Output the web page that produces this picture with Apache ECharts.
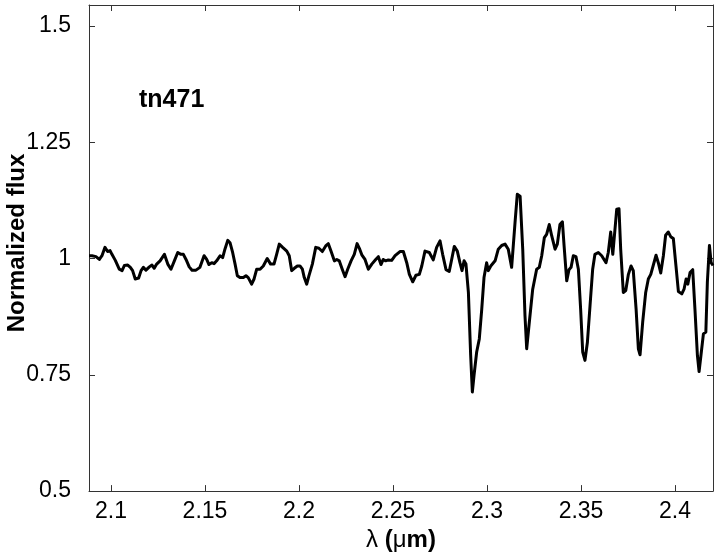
<!DOCTYPE html>
<html>
<head>
<meta charset="utf-8">
<script src="https://cdn.jsdelivr.net/npm/echarts@6/dist/echarts.min.js"></script>
<style>
html,body{margin:0;padding:0;background:#fff;}
#chart{width:717px;height:557px;}
</style>
</head>
<body>
<div id="chart"></div>
<script>
var wavelength = [2.0883,2.0899,2.0920,2.0938,2.0952,2.0968,2.0982,2.0995,2.1005,2.1023,2.1044,2.1059,2.1071,2.1089,2.1103,2.1115,2.1129,2.1147,2.1160,2.1172,2.1186,2.1204,2.1218,2.1230,2.1243,2.1261,2.1284,2.1302,2.1319,2.1337,2.1355,2.1372,2.1385,2.1399,2.1416,2.1431,2.1452,2.1473,2.1495,2.1509,2.1521,2.1536,2.1548,2.1562,2.1580,2.1594,2.1606,2.1621,2.1633,2.1647,2.1660,2.1672,2.1686,2.1704,2.1718,2.1730,2.1748,2.1761,2.1775,2.1793,2.1810,2.1831,2.1849,2.1867,2.1881,2.1895,2.1913,2.1935,2.1948,2.1961,2.1975,2.1991,2.2005,2.2018,2.2028,2.2041,2.2053,2.2071,2.2089,2.2106,2.2124,2.2142,2.2156,2.2170,2.2188,2.2201,2.2214,2.2230,2.2245,2.2259,2.2277,2.2294,2.2309,2.2321,2.2334,2.2351,2.2369,2.2387,2.2408,2.2422,2.2436,2.2448,2.2461,2.2475,2.2493,2.2511,2.2537,2.2555,2.2573,2.2587,2.2605,2.2622,2.2640,2.2653,2.2670,2.2693,2.2714,2.2732,2.2750,2.2764,2.2782,2.2799,2.2812,2.2826,2.2842,2.2856,2.2867,2.2878,2.2888,2.2901,2.2913,2.2922,2.2931,2.2945,2.2959,2.2972,2.2984,2.2998,2.3007,2.3020,2.3043,2.3060,2.3078,2.3096,2.3113,2.3131,2.3149,2.3161,2.3176,2.3190,2.3202,2.3211,2.3225,2.3243,2.3264,2.3278,2.3291,2.3305,2.3317,2.3331,2.3344,2.3362,2.3374,2.3388,2.3401,2.3410,2.3424,2.3436,2.3447,2.3459,2.3473,2.3486,2.3498,2.3509,2.3521,2.3534,2.3548,2.3562,2.3574,2.3592,2.3610,2.3619,2.3633,2.3645,2.3658,2.3669,2.3679,2.3690,2.3702,2.3711,2.3725,2.3738,2.3752,2.3766,2.3778,2.3793,2.3805,2.3814,2.3828,2.3844,2.3858,2.3871,2.3881,2.3899,2.3911,2.3924,2.3938,2.3950,2.3964,2.3977,2.3991,2.4005,2.4018,2.4036,2.4048,2.4059,2.4068,2.4080,2.4094,2.4106,2.4119,2.4128,2.4138,2.4151,2.4164,2.4172,2.4183,2.4192,2.4202];
var flux = [1.006,1.006,1.004,0.998,1.006,1.024,1.015,1.017,1.009,0.996,0.977,0.974,0.985,0.986,0.981,0.974,0.956,0.958,0.974,0.981,0.975,0.982,0.986,0.979,0.988,0.995,1.009,0.988,0.977,0.995,1.013,1.009,1.009,0.998,0.982,0.975,0.975,0.981,1.006,0.998,0.987,0.991,0.989,0.995,1.006,1.002,1.020,1.039,1.034,1.013,0.988,0.963,0.959,0.959,0.963,0.959,0.945,0.956,0.977,0.977,0.984,1.000,0.988,0.988,1.009,1.031,1.024,1.016,1.006,0.974,0.979,0.984,0.984,0.977,0.959,0.945,0.963,0.988,1.024,1.022,1.015,1.027,1.032,1.016,0.995,0.998,0.995,0.977,0.961,0.977,0.995,1.009,1.032,1.022,1.008,0.998,0.977,0.988,0.998,1.004,0.987,0.998,0.995,0.997,0.996,1.006,1.015,1.015,0.991,0.966,0.950,0.964,0.966,0.984,1.016,1.013,0.997,1.024,1.038,1.009,0.976,0.972,0.998,1.026,1.016,0.991,0.974,0.995,0.988,0.927,0.792,0.713,0.749,0.799,0.827,0.891,0.959,0.991,0.974,0.984,0.995,1.020,1.028,1.031,1.020,0.981,1.077,1.138,1.134,1.020,0.877,0.806,0.863,0.934,0.977,0.981,1.006,1.045,1.052,1.073,1.049,1.020,1.031,1.073,1.079,1.027,0.952,0.976,0.981,1.006,1.004,0.977,0.891,0.799,0.781,0.820,0.899,0.977,1.009,1.013,1.006,1.002,0.991,1.013,1.057,1.009,1.006,1.106,1.107,1.020,0.927,0.931,0.966,0.984,0.974,0.891,0.806,0.793,0.863,0.927,0.956,0.966,0.970,1.007,0.991,0.969,1.006,1.050,1.057,1.047,1.043,0.984,0.929,0.924,0.934,0.956,0.945,0.970,0.976,0.891,0.792,0.757,0.792,0.838,0.842,0.949,1.028,0.991,0.985];
var xTicks = [2.1,2.15,2.2,2.25,2.3,2.35,2.4];
var yTicks = [0.5,0.75,1,1.25,1.5];
var yTickLabels = ['0.5','0.75','1','1.25','1.5'];
var objectLabel = 'tn471';

var X_MIN = 2.0883, X_MAX = 2.4202, Y_MIN = 0.5, Y_MAX = 1.545;
var FONT = 'Liberation Sans, Arial, sans-serif';
var AX = '#333';

var pts = wavelength.map(function(w,i){return [w, flux[i]];});

function xAxisDef(pos, showLabel, extra){
  var o = {
    type:'value', position:pos, min:X_MIN, max:X_MAX,
    axisLine:{show:true, onZero:false, lineStyle:{color:AX, width:1}},
    axisTick:{show:true, inside:true, length:6, customValues:xTicks, lineStyle:{color:AX}},
    axisLabel:{show:showLabel, customValues:xTicks, color:'#000', fontSize:23, fontFamily:FONT, margin:9,
      formatter:function(v){return String(+v.toFixed(2));}},
    splitLine:{show:false}
  };
  for (var k in extra) o[k]=extra[k];
  return o;
}
function yAxisDef(pos, showLabel){
  return {
    type:'value', position:pos, min:Y_MIN, max:Y_MAX,
    axisLine:{show:true, onZero:false, lineStyle:{color:AX, width:1}},
    axisTick:{show:true, inside:true, length:6, customValues:yTicks, lineStyle:{color:AX}},
    axisLabel:{show:showLabel, customValues:yTicks, color:'#000', fontSize:23, fontFamily:FONT, margin:18,
      formatter:function(v){var i=yTicks.indexOf(+v.toFixed(2)); return i>=0?yTickLabels[i]:'';}},
    splitLine:{show:false}
  };
}

var chart = echarts.init(document.getElementById('chart'), null, {renderer:'canvas'});
chart.setOption({
  animation:false,
  backgroundColor:'#fff',
  grid:{left:89, right:4, top:5, bottom:63, containLabel:false},
  xAxis:[
    xAxisDef('bottom', true, {
      name:'{n|λ}{b| (}{n|μ}{b|m)}', nameLocation:'middle', nameGap:33,
      nameTextStyle:{color:'#000', fontSize:24, fontFamily:FONT,
        rich:{n:{fontSize:24, fontFamily:FONT, color:'#000'}, b:{fontSize:24, fontFamily:FONT, fontWeight:'bold', color:'#000'}}}
    }),
    xAxisDef('top', false, {})
  ],
  yAxis:[ yAxisDef('left', true), yAxisDef('right', false) ],
  graphic:[
    {type:'text', silent:true, position:[17,243], rotation:Math.PI/2,
      style:{text:'Normalized flux', fill:'#000', font:'bold 24px '+FONT, align:'center', verticalAlign:'middle'}},
    {type:'text', silent:true, position:[139,100],
      style:{text:objectLabel, fill:'#000', font:'bold 25px '+FONT, align:'left', verticalAlign:'middle'}}
  ],
  series:[{
    type:'line', data:pts, xAxisIndex:0, yAxisIndex:0,
    showSymbol:false, symbol:'none', smooth:false,
    lineStyle:{color:'#000', width:3, join:'round'},
    clip:true
  }]
});
</script>
</body>
</html>
